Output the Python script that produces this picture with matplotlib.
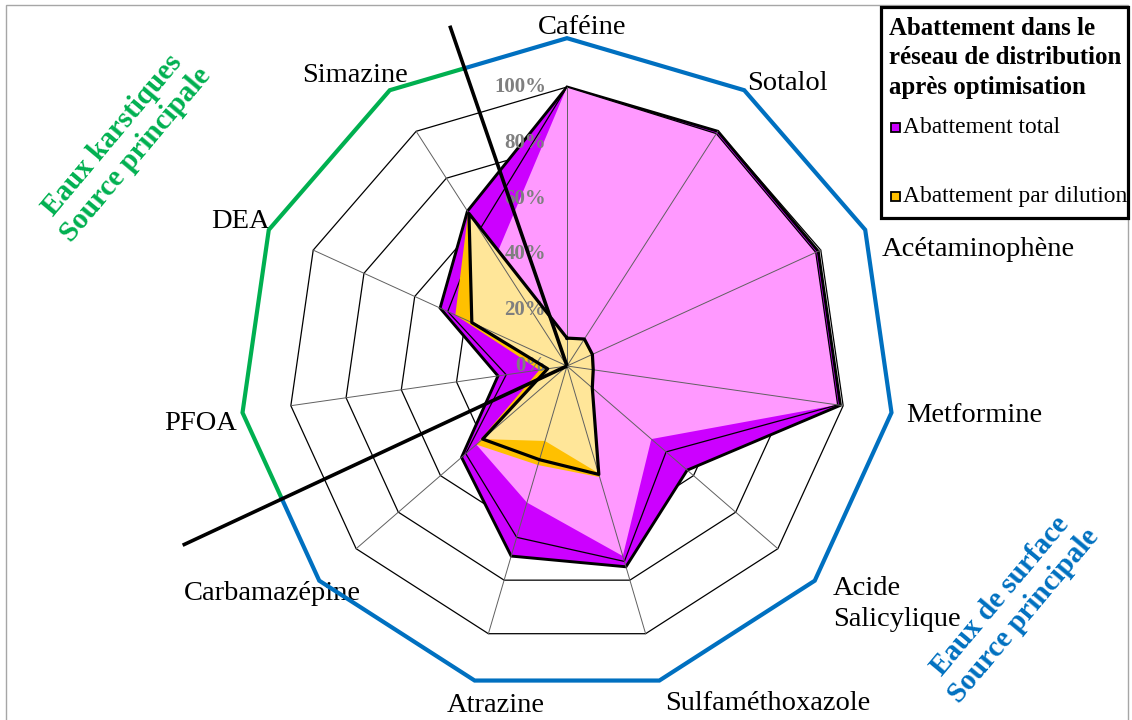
import numpy as np
import matplotlib
matplotlib.use('Agg')
import matplotlib.pyplot as plt
from matplotlib.patches import Rectangle

# ---------------- data ----------------
categories = ['Caféine', 'Sotalol', 'Acétaminophène', 'Metformine', 'Acide\nSalicylique',
              'Sulfaméthoxazole', 'Atrazine', 'Carbamazépine', 'PFOA', 'DEA', 'Simazine']
total_outer = [100, 100, 99, 99, 57, 75, 71, 50, 25, 50, 66]
total_mid = [100, 99, 98, 98, 47, 73, 64, 48, 22, 47, 58]
total_inner = [100, 99, 98, 98, 40, 71, 51, 43, 8, 30, 47]
dil_outer = [10, 11.5, 10, 9.5, 12, 41.5, 37, 43, 10, 44, 65.5]
dil_line = [10, 11.5, 10, 9.5, 12, 40.5, 35, 40, 7, 37.5, 65]
dil_inner = [9.5, 11, 9.5, 9, 11.5, 40, 28, 40, 6.5, 37, 64.5]
ring_levels = [20, 40, 60, 80, 100]
radial_labels = ['0%', '20%', '40%', '60%', '80%', '100%']
legend_title = ['Abattement dans le', 'réseau de distribution', 'après optimisation']
legend_items = ['Abattement total', 'Abattement par dilution']
zone_labels = ['Eaux karstiques\nSource principale', 'Eaux de surface\nSource principale']

# ---------------- style ----------------
SERIF = ['Liberation Serif', 'DejaVu Serif']
PURPLE, PINK = '#CC00FF', '#FF99FF'
ORANGE, LYELLOW = '#FFC000', '#FFE699'
GREEN, BLUE = '#00B050', '#0070C0'

W, H = 1132, 720
fig = plt.figure(figsize=(W / 100, H / 100), dpi=100)
fig.patch.set_facecolor('white')


def P(x, y):
    return (x / W, 1 - y / H)


CX, CY, R = 567, 366, 279
RMAX = 1.3
half = R * RMAX
ax = fig.add_axes([(CX - half) / W, (H - CY - half) / H, 2 * half / W, 2 * half / H],
                  projection='polar')
ax.set_theta_zero_location('N')
ax.set_theta_direction(-1)
ax.set_ylim(0, RMAX)
ax.set_axis_off()

N = len(categories)
step = 2 * np.pi / N
theta = np.arange(N) * step
tc = np.append(theta, theta[0])


def closed(v):
    v = np.asarray(v, dtype=float) / 100.0
    return np.append(v, v[0])


# grid rings
for lvl in ring_levels:
    ax.plot(tc, closed([lvl] * N), color='black', lw=0.9, zorder=1, clip_on=False)

# filled series
ax.fill(tc, closed(total_outer), facecolor=PURPLE, edgecolor='black', lw=2.1,
        zorder=2, clip_on=False)
ax.fill(tc, closed(total_inner), facecolor=PINK, edgecolor='none', zorder=2.1, clip_on=False)
ax.plot(tc, closed(total_mid), color='black', lw=0.9, zorder=2.15, clip_on=False)
ax.fill(tc, closed(dil_outer), facecolor=ORANGE, edgecolor='none', zorder=2.2, clip_on=False)
ax.fill(tc, closed(dil_inner), facecolor=LYELLOW, edgecolor='none', zorder=2.3, clip_on=False)

# spokes on top of fills
for t in theta:
    ax.plot([t, t], [0, 1], color='#606060', lw=0.7, zorder=2.4, clip_on=False)

ax.plot(tc, closed(dil_line), color='black', lw=2.3, zorder=2.6, clip_on=False)

# radial labels
for i, lab in enumerate(radial_labels):
    ax.annotate(lab, xy=(0, i * 0.2), xytext=(-21, 0), textcoords='offset pixels',
                ha='right', va='center', fontsize=15, fontweight='bold', color='#7F7F7F',
                family=SERIF, zorder=2.5, annotation_clip=False)

# separator lines
SEP1 = np.deg2rad(341.0)
SEP2 = np.deg2rad(245.0)
ax.plot([SEP1, SEP1], [0, 1.29], color='black', lw=2.6, zorder=4, clip_on=False,
        solid_capstyle='butt')
ax.plot([SEP2, SEP2], [0, 1.52], color='black', lw=2.6, zorder=4, clip_on=False,
        solid_capstyle='butt')

# outer frame (two colours)
RF = 1.175


def frame_r(phi):
    mid = (np.floor(phi / step) + 0.5) * step
    return RF * np.cos(step / 2) / np.cos(phi - mid)


def frame_part(a0, a1):
    ks = np.arange(np.ceil(a0 / step), np.floor(a1 / step) + 1)
    th = np.concatenate([[a0], ks * step, [a1]])
    rr = np.concatenate([[frame_r(a0)], np.full(len(ks), RF), [frame_r(a1)]])
    return th, rr


th_g, r_g = frame_part(SEP2, SEP1)
th_b, r_b = frame_part(SEP1, SEP2 + 2 * np.pi)
ax.plot(th_g, r_g, color=GREEN, lw=3.0, zorder=3.5, clip_on=False, solid_joinstyle='miter')
ax.plot(th_b, r_b, color=BLUE, lw=3.0, zorder=3.5, clip_on=False, solid_joinstyle='miter')

# category labels (placed in figure pixels, drawn beneath frame)
label_pos = [(582, 28, 'center'), (787, 83, 'center'), (978, 249, 'center'),
             (974, 416, 'center'), (833, 604, 'left'), (768, 704, 'center'),
             (496, 705, 'center'), (272, 593, 'center'), (201, 423, 'center'),
             (240, 222, 'center'), (355, 75, 'center')]
for name, (x, y, ha) in zip(categories, label_pos):
    ax.text(*P(x, y), name, transform=fig.transFigure, ha=ha, va='center',
            multialignment='left', fontsize=20.5, family=SERIF, color='black',
            zorder=3, clip_on=False, linespacing=1.3)

# zone annotations
fig.text(*P(124, 145), zone_labels[0], rotation=50, ha='center', va='center',
         multialignment='center', fontsize=21, fontweight='bold', color=GREEN, family=SERIF,
         linespacing=1.15)
fig.text(*P(1012, 606), zone_labels[1], rotation=50, ha='center', va='center',
         multialignment='center', fontsize=21, fontweight='bold', color=BLUE, family=SERIF,
         linespacing=1.15)

# chart border
fig.patches.append(Rectangle(P(6, 730), (1128 - 6) / W, (730 - 5) / H, transform=fig.transFigure,
                             fill=False, edgecolor='#A6A6A6', lw=1.0, zorder=0.5))

# legend box
lx0, ly0, lx1, ly1 = 881, 7, 1128, 218
fig.patches.append(Rectangle(P(lx0, ly1), (lx1 - lx0) / W, (ly1 - ly0) / H,
                             transform=fig.transFigure, facecolor='white', edgecolor='black',
                             lw=2.3, zorder=5))
for txt, yb in zip(legend_title, [35, 64.5, 94]):
    fig.text(*P(889, yb), txt, ha='left', va='baseline', fontsize=17.9,
             fontweight='bold', family=SERIF, color='black', zorder=6)
for txt, yb, col in zip(legend_items, [133, 202], [PURPLE, ORANGE]):
    fig.patches.append(Rectangle(P(891, yb - 1), 9 / W, 9 / H, transform=fig.transFigure,
                                 facecolor=col, edgecolor='black', lw=1.3, zorder=6))
    fig.text(*P(903, yb), txt, ha='left', va='baseline', fontsize=16.9,
             family=SERIF, color='black', zorder=6)

fig.savefig('out.png', dpi=100, facecolor='white')
